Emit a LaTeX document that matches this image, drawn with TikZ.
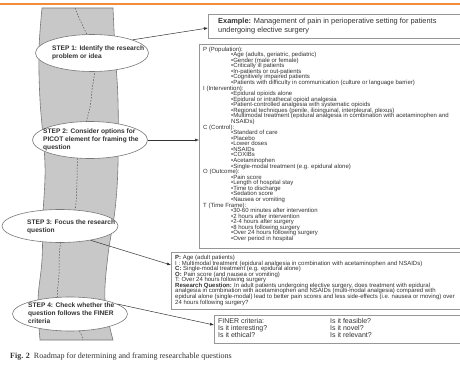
\documentclass[tikz,border=0pt]{standalone}
\usepackage{fontspec}
\setmainfont{Liberation Sans}
\newfontfamily\capfont{Liberation Serif}
\usetikzlibrary{shapes.geometric,arrows.meta}
\definecolor{orangeline}{RGB}{240,140,60}
\definecolor{roadgray}{RGB}{200,200,200}
\definecolor{roadedge}{RGB}{120,120,120}
\definecolor{txt}{RGB}{50,50,50}
\definecolor{boxedge}{RGB}{150,150,150}
\newcommand\pbul{\hspace*{28pt}•}
\begin{document}
\lineskiplimit=-10pt\relax
\begin{tikzpicture}[x=1pt,y=-1pt,
  stepell/.style={ellipse, draw=roadedge, fill=white, line width=0.6pt, inner sep=0pt},
  steptxt/.style={anchor=west, align=left, inner sep=0pt, text=txt, font=\fontsize{6.6}{8}\selectfont\bfseries},
  infobox/.style={draw=boxedge, line width=1pt, anchor=north west, inner sep=0pt},
  boxtxt/.style={anchor=north west, align=left, inner sep=0pt, text=txt, font=\fontsize{6}{5.57}\selectfont},
  arr/.style={-{Latex[length=4pt,width=3pt]}, draw=txt, line width=0.5pt}]
\useasboundingbox[fill=white] (0,0) rectangle (460,366);
% orange rule
\draw[orangeline, line width=2pt] (0,4) -- (460,4);
% road
\fill[roadgray, draw=roadedge, line width=0.6pt]
  plot[smooth, tension=0.6] coordinates {(42,8) (39,50) (40,100) (45,165) (43,215) (42,260) (38,300) (40,340)}
  -- plot[smooth, tension=0.6] coordinates {(113,340) (105,300) (108,255) (115,210) (118,165) (118,100) (115,50) (113,8)}
  -- cycle;
\draw[roadedge!70!black, dashed, dash pattern=on 1.5pt off 1.5pt, line width=0.5pt]
  plot[smooth, tension=0.6] coordinates {(75,8) (80,20) (87,35) (92,52) (95,67) (92,90) (90,107) (84,130) (78,152) (77,180) (75,210) (66,230) (60,247) (59,275) (58,300) (70,318) (80,332) (83,340)};
% ellipses
\node[stepell, minimum width=113pt, minimum height=37pt] (s1) at (92,53) {};
\node[stepell, minimum width=115pt, minimum height=37pt] (s2) at (90,140) {};
\node[stepell, minimum width=116pt, minimum height=33pt] (s3) at (60,226) {};
\node[stepell, minimum width=115pt, minimum height=34pt] (s4) at (70,314) {};
\node[steptxt] (t1) at (52,53) {STEP 1: Identify the research\\problem or idea};
\node[steptxt] (t2) at (43,140) {STEP 2: Consider options for\\PICOT element for framing the\\question};
\node[steptxt] (t3) at (27,227) {STEP 3: Focus the research\\question};
\node[steptxt] (t4) at (28,313) {STEP 4: Check whether the\\question follows the FINER\\criteria};
% boxes (run off the right edge, as in the reference)
\node[infobox, minimum width=256pt, minimum height=24pt] (ex) at (208,14) {};
\node[boxtxt, font=\fontsize{7.4}{9}\selectfont] (ext) at (218,17.5) {\textbf{Example:} Management of pain in perioperative setting for patients\\undergoing elective surgery};
\node[infobox, minimum width=265pt, minimum height=204pt] (picot) at (199,44) {};
\node[boxtxt] (picott) at (203,46.5) {P (Population):\\
\pbul Age (adults, geriatric, pediatric)\\
\pbul Gender (male or female)\\
\pbul Critically ill patients\\
\pbul In-patients or out-patients\\
\pbul Cognitively impaired patients\\
\pbul Patients with difficulty in communication (culture or language barrier)\\
I (Intervention):\\
\pbul Epidural opioids alone\\
\pbul Epidural or intrathecal opioid analgesia\\
\pbul Patient-controlled analgesia with systematic opioids\\
\pbul Regional techniques (penile, ilioinguinal, interpleural, plexus)\\
\pbul Multimodal treatment (epidural analgesia in combination with acetaminophen and\\
\hspace*{28pt}NSAIDs)\\
C (Control):\\
\pbul Standard of care\\
\pbul Placebo\\
\pbul Lower doses\\
\pbul NSAIDs\\
\pbul COXIBs\\
\pbul Acetaminophen\\
\pbul Single-modal treatment (e.g. epidural alone)\\
O (Outcome):\\
\pbul Pain score\\
\pbul Length of hospital stay\\
\pbul Time to discharge\\
\pbul Sedation score\\
\pbul Nausea or vomiting\\
T (Time Frame):\\
\pbul 30-60 minutes after intervention\\
\pbul 2 hours after intervention\\
\pbul 2-4 hours after surgery\\
\pbul 8 hours following surgery\\
\pbul Over 24 hours following surgery\\
\pbul Over period in hospital};
\node[infobox, minimum width=293pt, minimum height=57pt] (rq) at (171,252) {};
\node[boxtxt] (rqt) at (175,255) {\textbf{P:} Age (adult patients)\\
I : Multimodal treatment (epidural analgesia in combination with acetaminophen and NSAIDs)\\
\textbf{C:} Single-modal treatment (e.g. epidural alone)\\
\textbf{O:} Pain score (and nausea or vomiting)\\
T: Over 24 hours following surgery\\
\textbf{Research Question:} In adult patients undergoing elective surgery, does treatment with epidural\\
analgesia in combination with acetaminophen and NSAIDs (multi-modal analgesia) compared with\\
epidural alone (single-modal) lead to better pain scores and less side-effects (i.e. nausea or moving) over\\
24 hours following surgery?};
\node[infobox, minimum width=250pt, minimum height=28pt] (finer) at (214,315) {};
\node[boxtxt, font=\fontsize{7}{6.7}\selectfont] (fl) at (218,318.5) {FINER criteria:\\Is it interesting?\\Is it ethical?};
\node[boxtxt, font=\fontsize{7}{6.7}\selectfont] (fr) at (330,318.5) {Is it feasible?\\Is it novel?\\Is it relevant?};
% connectors
\draw[arr] (s1.18) -- (ex.west |- 0,28);
\draw[arr] (s2.east) -- (s2.east -| picot.west);
\draw[arr] (s3.-25) -- (rq.west |- 0,265);
\draw[arr] (s4.12) -- (finer.west |- 0,325);
% caption
\node[anchor=west, inner sep=0pt, text=txt, font=\capfont\fontsize{8}{9}\selectfont] (cap) at (10,357) {\textbf{Fig. 2}\hspace{4pt}Roadmap for determining and framing researchable questions};
\end{tikzpicture}
\end{document}
